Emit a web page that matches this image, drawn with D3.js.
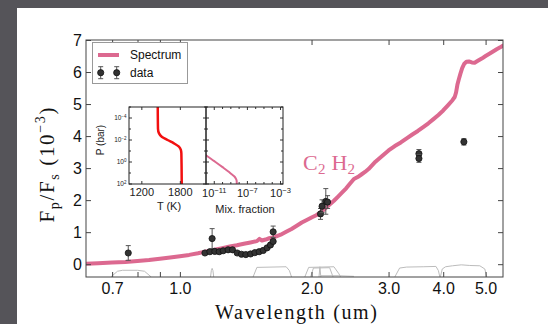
<!DOCTYPE html>
<html>
<head>
<meta charset="utf-8">
<script src="https://cdn.jsdelivr.net/npm/d3@7"></script>
<style>
  html, body { margin: 0; padding: 0; background: #555459; }
  svg { display: block; }
</style>
</head>
<body>
<div id="chart-container"></div>
<script>
// model spectrum: wavelength (um) and Fp/Fs (1e-3)
const specWave = [0.60, 0.65, 0.70, 0.75, 0.80, 0.85, 0.90, 0.95, 1.00, 1.05, 1.10, 1.15, 1.20, 1.25, 1.30, 1.35,
    1.40, 1.45, 1.50, 1.52, 1.54, 1.57, 1.60, 1.65, 1.70, 1.75, 1.80, 1.85, 1.90, 1.95, 2.00, 2.05, 2.10, 2.15,
    2.20, 2.25, 2.30, 2.35, 2.40, 2.45, 2.50, 2.55, 2.60, 2.65, 2.70, 2.80, 2.90, 3.00, 3.10, 3.20, 3.30, 3.40,
    3.50, 3.60, 3.70, 3.80, 3.90, 4.00, 4.10, 4.20, 4.25, 4.28, 4.31, 4.34, 4.38, 4.42, 4.47, 4.52, 4.58, 4.65,
    4.72, 4.80, 4.90, 5.00, 5.10, 5.20, 5.30, 5.40, 5.50];
const specFlux = [0.01, 0.03, 0.05, 0.07, 0.10, 0.13, 0.17, 0.21, 0.25, 0.29, 0.34, 0.40, 0.45, 0.50, 0.55, 0.59,
    0.64, 0.68, 0.72, 0.79, 0.74, 0.77, 0.81, 0.85, 0.92, 1.01, 1.10, 1.20, 1.30, 1.38, 1.46, 1.53, 1.62, 1.74,
    1.86, 1.98, 2.11, 2.24, 2.37, 2.52, 2.66, 2.72, 2.80, 2.88, 2.97, 3.20, 3.38, 3.55, 3.69, 3.80, 3.93, 4.05,
    4.16, 4.28, 4.40, 4.53, 4.66, 4.80, 4.96, 5.12, 5.22, 5.36, 5.60, 5.76, 5.95, 6.12, 6.26, 6.32, 6.33, 6.30,
    6.29, 6.35, 6.42, 6.50, 6.57, 6.64, 6.71, 6.77, 6.84];

// observed eclipse depths
const dataWave = [0.762, 1.141, 1.171, 1.185, 1.202, 1.230, 1.256, 1.289, 1.319, 1.352, 1.383, 1.415, 1.451,
    1.484, 1.518, 1.551, 1.583, 1.611, 1.634, 1.634, 2.097, 2.114, 2.156, 2.176, 3.52, 3.52, 4.46];
const dataFlux = [0.35, 0.35, 0.39, 0.80, 0.40, 0.39, 0.42, 0.45, 0.45, 0.35, 0.31, 0.30, 0.32,
    0.36, 0.39, 0.43, 0.51, 0.60, 0.71, 1.01, 1.57, 1.81, 1.96, 1.94, 3.45, 3.30, 3.82];
const dataErr = [0.23, 0.03, 0.03, 0.31, 0.03, 0.03, 0.03, 0.03, 0.03, 0.03, 0.03, 0.03, 0.03,
    0.03, 0.03, 0.03, 0.03, 0.03, 0.03, 0.18, 0.17, 0.20, 0.40, 0.20, 0.13, 0.12, 0.10];

// filter transmission outlines, [wavelength, y]
const filterCurves = [
    [[0.695, -0.4], [0.72, -0.22], [0.74, -0.19], [0.80, -0.19], [0.83, -0.22], [0.86, -0.4]],
    [[1.175, -0.4], [1.18, -0.2], [1.185, -0.13], [1.19, -0.2], [1.195, -0.4]],
    [[1.47, -0.4], [1.50, -0.1], [1.75, -0.08], [1.78, -0.2], [1.80, -0.4]],
    [[1.93, -0.4], [1.97, -0.1], [2.25, -0.08], [2.31, -0.3], [2.33, -0.4]],
    [[1.99, -0.4], [2.02, -0.12], [2.20, -0.11], [2.24, -0.4]],
    [[2.08, -0.4], [2.09, -0.08], [2.10, -0.4]],
    [[2.10, -0.36], [2.30, -0.36], [2.50, -0.38]],
    [[3.10, -0.4], [3.18, -0.12], [3.30, -0.09], [3.60, -0.08], [3.85, -0.07], [3.90, -0.2], [3.93, -0.4]],
    [[3.94, -0.4], [3.98, -0.15], [4.05, -0.08], [4.20, -0.05], [4.40, -0.02], [4.60, -0.04], [4.85, -0.05], [4.98, -0.15], [5.03, -0.4]]
];

const xTicks = [0.7, 0.8, 0.9, 1.0, 2.0, 3.0, 4.0, 5.0];
const xLabelled = [0.7, 1.0, 2.0, 3.0, 4.0, 5.0];
const yTicks = [0, 1, 2, 3, 4, 5, 6, 7];

// inset: temperature profile and C2H2 mixing ratio
const tpLogP = [-5, -3.0, -2.6, -2.3, -2.0, -1.7, -1.4, -1.1, -0.8, 2];
const tpTemp = [1448, 1452, 1468, 1510, 1600, 1700, 1778, 1808, 1816, 1822];
const mixLogP = [-1.2, -0.62, -0.08, 0.47, 0.87, 1.12, 1.3, 1.5, 1.7, 2];
const mixLogX = [-13, -12, -11, -10, -9.3, -8.9, -8.6, -8.4, -8.3, -8.28];
const pTickExp = [-4, -2, 0, 2];
const tTicks = [1200, 1800];
const mixTickExp = [-11, -7, -3];

const pink = "#dc6990";
const sans = "'Liberation Sans', Arial, sans-serif";
const serif = "'Liberation Serif', 'Times New Roman', serif";

const width = 548;
const height = 324;
const margin = { top: 40, right: 45, bottom: 47, left: 86 };
const innerW = width - margin.left - margin.right;
const innerH = height - margin.top - margin.bottom;

const svg = d3.select("#chart-container")
    .append("svg")
    .attr("width", width)
    .attr("height", height);

svg.append("rect").attr("width", width).attr("height", height).attr("fill", "#555459");
svg.append("rect").attr("x", 17).attr("y", 8).attr("width", width - 17).attr("height", height - 8).attr("fill", "#fff");

const g = svg.append("g").attr("transform", `translate(${margin.left},${margin.top})`);

// Scales
const x = d3.scaleLog().domain([0.61, 5.48]).range([0, innerW]);
const y = d3.scaleLinear().domain([-0.4, 7]).range([innerH, 0]);

g.append("clipPath").attr("id", "plot-clip")
    .append("rect").attr("width", innerW).attr("height", innerH);

const plot = g.append("g").attr("clip-path", "url(#plot-clip)");

const line = d3.line().x(d => x(d[0])).y(d => y(d[1]));

// filters
plot.selectAll(".filter")
    .data(filterCurves)
    .enter().append("path")
    .attr("class", "filter")
    .attr("d", line)
    .attr("fill", "none")
    .attr("stroke", "#bcbcbc")
    .attr("stroke-width", 1);

// spectrum
const spec = specWave.map((w, i) => [w, specFlux[i]]);
plot.append("path")
    .attr("d", line(spec))
    .attr("fill", "none")
    .attr("stroke", pink)
    .attr("stroke-width", 4)
    .attr("stroke-linejoin", "round");

// data with error bars
const pts = dataWave.map((w, i) => ({ w: w, f: dataFlux[i], e: dataErr[i] }));

function drawErrorPoint(sel, cx, cy, top, bot) {
    sel.append("line").attr("x1", cx).attr("x2", cx).attr("y1", top).attr("y2", bot)
        .attr("stroke", "#555").attr("stroke-width", 1);
    [top, bot].forEach(v => sel.append("line")
        .attr("x1", cx - 2.5).attr("x2", cx + 2.5).attr("y1", v).attr("y2", v)
        .attr("stroke", "#555").attr("stroke-width", 1));
    sel.append("circle").attr("cx", cx).attr("cy", cy).attr("r", 3.1)
        .attr("fill", "#333").attr("stroke", "#111").attr("stroke-width", 0.8);
}

pts.forEach(d => {
    drawErrorPoint(plot.append("g"), x(d.w), y(d.f), y(d.f + d.e), y(d.f - d.e));
});

// Axes
g.append("g")
    .attr("transform", `translate(0,${innerH})`)
    .call(d3.axisBottom(x).tickValues(xTicks).tickSize(-5).tickPadding(6)
        .tickFormat(d => xLabelled.includes(d) ? d3.format(".1f")(d) : ""));
g.append("g")
    .call(d3.axisTop(x).tickValues(xTicks).tickSize(-5).tickFormat(""));
g.append("g")
    .call(d3.axisLeft(y).tickValues(yTicks).tickSize(-5).tickPadding(4));
g.append("g")
    .attr("transform", `translate(${innerW},0)`)
    .call(d3.axisRight(y).tickValues(yTicks).tickSize(-5).tickFormat(""));

g.selectAll(".domain").remove();
g.selectAll(".tick line").attr("stroke", "#444");
g.selectAll(".tick text").attr("font-size", 16).attr("font-family", sans).attr("fill", "#111");

g.append("rect")
    .attr("width", innerW).attr("height", innerH)
    .attr("fill", "none").attr("stroke", "#444").attr("stroke-width", 1);

// axis labels
svg.append("text")
    .attr("x", 296).attr("y", 319)
    .attr("text-anchor", "middle")
    .attr("font-family", serif).attr("font-size", 20)
    .attr("textLength", 162).attr("lengthAdjust", "spacing")
    .attr("fill", "#111")
    .text("Wavelength (um)");

const yLab = svg.append("text")
    .attr("transform", "translate(54,165) rotate(-90)")
    .attr("text-anchor", "middle")
    .attr("font-family", serif).attr("font-size", 21)
    .attr("fill", "#111")
    .attr("textLength", 115).attr("lengthAdjust", "spacing");
yLab.append("tspan").text("F");
yLab.append("tspan").attr("dy", 5).attr("font-size", 14).text("p");
yLab.append("tspan").attr("dy", -5).text("/F");
yLab.append("tspan").attr("dy", 5).attr("font-size", 14).text("s");
yLab.append("tspan").attr("dy", -5).text(" (10");
yLab.append("tspan").attr("dy", -9).attr("font-size", 14).text("\u22123");
yLab.append("tspan").attr("dy", 9).text(")");

// C2H2 annotation
const mol = svg.append("text")
    .attr("x", 303).attr("y", 170)
    .attr("font-family", serif).attr("font-size", 22)
    .attr("fill", pink)
    .attr("textLength", 52).attr("lengthAdjust", "spacing");
mol.append("tspan").text("C");
mol.append("tspan").attr("dy", 4).attr("font-size", 15).text("2");
mol.append("tspan").attr("dy", -4).text(" H");
mol.append("tspan").attr("dy", 4).attr("font-size", 15).text("2");

// Legend
const legend = svg.append("g");
legend.append("rect")
    .attr("x", 92.5).attr("y", 42.5).attr("width", 95).attr("height", 41)
    .attr("fill", "#fff").attr("stroke", "#999").attr("stroke-width", 1);
legend.append("line")
    .attr("x1", 98).attr("x2", 119).attr("y1", 55).attr("y2", 55)
    .attr("stroke", pink).attr("stroke-width", 4);
legend.append("text")
    .attr("x", 130).attr("y", 59.2)
    .attr("font-family", sans).attr("font-size", 12).attr("fill", "#111")
    .text("Spectrum");
[100.7, 116.7].forEach(cx => drawErrorPoint(legend.append("g"), cx, 72.7, 66.7, 78.7));
legend.append("text")
    .attr("x", 130).attr("y", 77)
    .attr("font-family", sans).attr("font-size", 12).attr("fill", "#111")
    .text("data");

// Inset panels
const inset = { left: 129, mid: 206, right: 283, top: 107, bottom: 184 };
const tScale = d3.scaleLinear().domain([1000, 2200]).range([inset.left, inset.mid]);
const pScale = d3.scaleLog().domain([1e-5, 1e2]).range([inset.top, inset.bottom]);
const mixScale = d3.scaleLog().domain([1e-12, Math.pow(10, -2.7)]).range([inset.mid, inset.right]);

const ins = svg.append("g");
ins.append("rect")
    .attr("x", inset.left).attr("y", inset.top)
    .attr("width", inset.right - inset.left).attr("height", inset.bottom - inset.top)
    .attr("fill", "#fff");

ins.append("clipPath").attr("id", "tp-clip").append("rect")
    .attr("x", inset.left).attr("y", inset.top)
    .attr("width", inset.mid - inset.left).attr("height", inset.bottom - inset.top);
ins.append("clipPath").attr("id", "mix-clip").append("rect")
    .attr("x", inset.mid).attr("y", inset.top)
    .attr("width", inset.right - inset.mid).attr("height", inset.bottom - inset.top);

ins.append("path")
    .attr("clip-path", "url(#tp-clip)")
    .attr("d", d3.line().x(d => tScale(d[1])).y(d => pScale(Math.pow(10, d[0])))
        .curve(d3.curveMonotoneY)(tpLogP.map((p, i) => [p, tpTemp[i]])))
    .attr("fill", "none").attr("stroke", "#f21010").attr("stroke-width", 2.5);

ins.append("path")
    .attr("clip-path", "url(#mix-clip)")
    .attr("d", d3.line().x(d => mixScale(Math.pow(10, d[1]))).y(d => pScale(Math.pow(10, d[0])))
        .curve(d3.curveMonotoneY)(mixLogP.map((p, i) => [p, mixLogX[i]])))
    .attr("fill", "none").attr("stroke", pink).attr("stroke-width", 2);

// inset ticks
const decades = d3.range(-5, 3);
[inset.left, inset.mid, inset.right].forEach(xx => {
    decades.forEach(e => {
        const yy = pScale(Math.pow(10, e));
        const len = pTickExp.includes(e) ? 3 : 2;
        if (xx !== inset.right) ins.append("line").attr("x1", xx).attr("x2", xx + len).attr("y1", yy).attr("y2", yy).attr("stroke", "#333");
        if (xx !== inset.left) ins.append("line").attr("x1", xx - len).attr("x2", xx).attr("y1", yy).attr("y2", yy).attr("stroke", "#333");
    });
});
tTicks.forEach(t => {
    const xx = tScale(t);
    ins.append("line").attr("x1", xx).attr("x2", xx).attr("y1", inset.bottom).attr("y2", inset.bottom - 3).attr("stroke", "#333");
    ins.append("line").attr("x1", xx).attr("x2", xx).attr("y1", inset.top).attr("y2", inset.top + 3).attr("stroke", "#333");
});
d3.range(-11, -2).forEach(e => {
    const xx = mixScale(Math.pow(10, e));
    const len = mixTickExp.includes(e) ? 3 : 2;
    ins.append("line").attr("x1", xx).attr("x2", xx).attr("y1", inset.bottom).attr("y2", inset.bottom - len).attr("stroke", "#333");
    ins.append("line").attr("x1", xx).attr("x2", xx).attr("y1", inset.top).attr("y2", inset.top + len).attr("stroke", "#333");
});

[inset.left, inset.mid].forEach((x0, i) => {
    const x1 = i === 0 ? inset.mid : inset.right;
    ins.append("rect")
        .attr("x", x0).attr("y", inset.top).attr("width", x1 - x0).attr("height", inset.bottom - inset.top)
        .attr("fill", "none").attr("stroke", "#222").attr("stroke-width", 1);
});

// inset tick labels
pTickExp.forEach(e => {
    const t = ins.append("text")
        .attr("x", 126.5).attr("y", pScale(Math.pow(10, e)) + 2.2)
        .attr("text-anchor", "end")
        .attr("font-family", sans).attr("font-size", 6.5).attr("fill", "#222");
    t.append("tspan").text("10");
    t.append("tspan").attr("dy", -2.5).attr("font-size", 4.5).text(e < 0 ? "\u2212" + (-e) : e);
});
tTicks.forEach(v => {
    ins.append("text")
        .attr("x", tScale(v)).attr("y", 196)
        .attr("text-anchor", "middle")
        .attr("font-family", sans).attr("font-size", 11).attr("fill", "#222")
        .text(v);
});
mixTickExp.forEach(e => {
    const t = ins.append("text")
        .attr("x", mixScale(Math.pow(10, e))).attr("y", 197)
        .attr("text-anchor", "middle")
        .attr("font-family", sans).attr("font-size", 11).attr("fill", "#222");
    t.append("tspan").text("10");
    t.append("tspan").attr("dy", -4).attr("font-size", 7.5).text("\u2212" + (-e));
});

ins.append("text")
    .attr("x", 169).attr("y", 209.5)
    .attr("text-anchor", "middle")
    .attr("font-family", sans).attr("font-size", 11).attr("fill", "#222")
    .text("T (K)");
ins.append("text")
    .attr("x", 245).attr("y", 213)
    .attr("text-anchor", "middle")
    .attr("font-family", sans).attr("font-size", 11).attr("fill", "#222")
    .text("Mix. fraction");
ins.append("text")
    .attr("transform", "translate(104,140) rotate(-90)")
    .attr("text-anchor", "middle")
    .attr("font-family", sans).attr("font-size", 10).attr("fill", "#222")
    .text("P (bar)");
</script>
</body>
</html>
